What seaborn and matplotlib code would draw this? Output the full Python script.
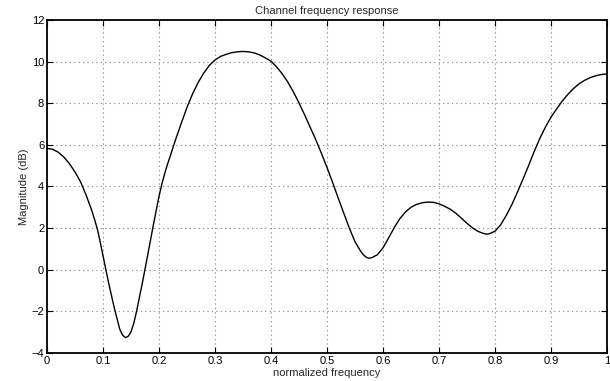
import numpy as np
import pandas as pd
import seaborn as sns
import matplotlib
matplotlib.use('Agg')
import matplotlib.pyplot as plt

# normalized frequency (0.01 steps, a few extra points where the curve bends)
freq = [
    0.00, 0.01, 0.02, 0.03, 0.04, 0.05, 0.06, 0.07, 0.08, 0.085,
    0.09, 0.095, 0.10, 0.11, 0.12, 0.13, 0.135, 0.14, 0.145, 0.15,
    0.155, 0.16, 0.17, 0.18, 0.19, 0.20, 0.205, 0.21, 0.215, 0.22,
    0.23, 0.24, 0.25, 0.26, 0.27, 0.28, 0.29, 0.30, 0.31, 0.32,
    0.33, 0.34, 0.35, 0.36, 0.37, 0.38, 0.39, 0.40, 0.41, 0.42,
    0.43, 0.44, 0.45, 0.46, 0.47, 0.48, 0.49, 0.50, 0.51, 0.52,
    0.53, 0.54, 0.55, 0.56, 0.565, 0.57, 0.575, 0.58, 0.59, 0.60,
    0.61, 0.62, 0.63, 0.64, 0.65, 0.66, 0.67, 0.68, 0.69, 0.70,
    0.71, 0.72, 0.73, 0.74, 0.75, 0.76, 0.77, 0.78, 0.785, 0.79,
    0.80, 0.81, 0.82, 0.83, 0.84, 0.85, 0.86, 0.87, 0.88, 0.89,
    0.90, 0.91, 0.92, 0.93, 0.94, 0.95, 0.96, 0.97, 0.98, 0.99,
    1.00,
]

# magnitude in dB
mag = [
    5.83, 5.79, 5.65, 5.42, 5.10, 4.70, 4.22, 3.58, 2.85, 2.42,
    1.95, 1.35, 0.68, -0.62, -1.81, -2.86, -3.14, -3.26, -3.20, -2.98,
    -2.58, -2.00, -0.68, 0.72, 2.15, 3.52, 4.10, 4.60, 5.05, 5.45,
    6.28, 7.05, 7.80, 8.45, 9.00, 9.45, 9.82, 10.08, 10.25, 10.35,
    10.43, 10.47, 10.49, 10.47, 10.42, 10.32, 10.18, 10.02, 9.75, 9.42,
    9.02, 8.55, 8.02, 7.45, 6.85, 6.25, 5.60, 4.92, 4.20, 3.45,
    2.72, 2.00, 1.35, 0.90, 0.72, 0.60, 0.553, 0.58, 0.72, 1.05,
    1.52, 2.02, 2.45, 2.77, 3.00, 3.14, 3.22, 3.25, 3.24, 3.17,
    3.05, 2.91, 2.72, 2.48, 2.23, 2.01, 1.84, 1.74, 1.71, 1.73,
    1.85, 2.15, 2.60, 3.12, 3.72, 4.35, 5.00, 5.68, 6.30, 6.85,
    7.33, 7.72, 8.10, 8.42, 8.70, 8.93, 9.10, 9.23, 9.32, 9.38,
    9.41,
]

xticks = [0, 0.1, 0.2, 0.3, 0.4, 0.5, 0.6, 0.7, 0.8, 0.9, 1]
xticklabels = ['0', '0.1', '0.2', '0.3', '0.4', '0.5', '0.6', '0.7', '0.8', '0.9', '1']
yticks = [-4, -2, 0, 2, 4, 6, 8, 10, 12]
yticklabels = ['\u22124', '\u22122', '0', '2', '4', '6', '8', '10', '12']

df = pd.DataFrame({'freq': freq, 'mag': mag})

sns.set_style('ticks')
plt.rcParams['font.family'] = ['Liberation Sans', 'DejaVu Sans']

fig = plt.figure(figsize=(6.1, 3.81), dpi=100)
ax = fig.add_axes([0.077, 0.0735, 0.918, 0.874])

sns.lineplot(data=df, x='freq', y='mag', color='black', linewidth=1.0,
             sort=False, estimator=None, ax=ax)

ax.set_xlim(0, 1)
ax.set_ylim(-4, 12)
ax.set_xticks(xticks)
ax.set_xticklabels(xticklabels)
ax.set_yticks(yticks)
ax.set_yticklabels(yticklabels)
ax.grid(True, linestyle=(0, (1, 3)), color='0.5', linewidth=0.8)

ax.tick_params(direction='in', length=4, width=0.8, labelsize=8,
               top=True, right=True, pad=2, colors='black')
for s in ax.spines.values():
    s.set_visible(True)
    s.set_linewidth(1.3)
    s.set_color('black')

ax.set_title('Channel frequency response', fontsize=8, pad=4)
ax.set_xlabel('normalized frequency', fontsize=8, labelpad=1.5)
ax.set_ylabel('Magnitude (dB)', fontsize=8, labelpad=2)

fig.savefig('out.png', dpi=100, facecolor='white')
